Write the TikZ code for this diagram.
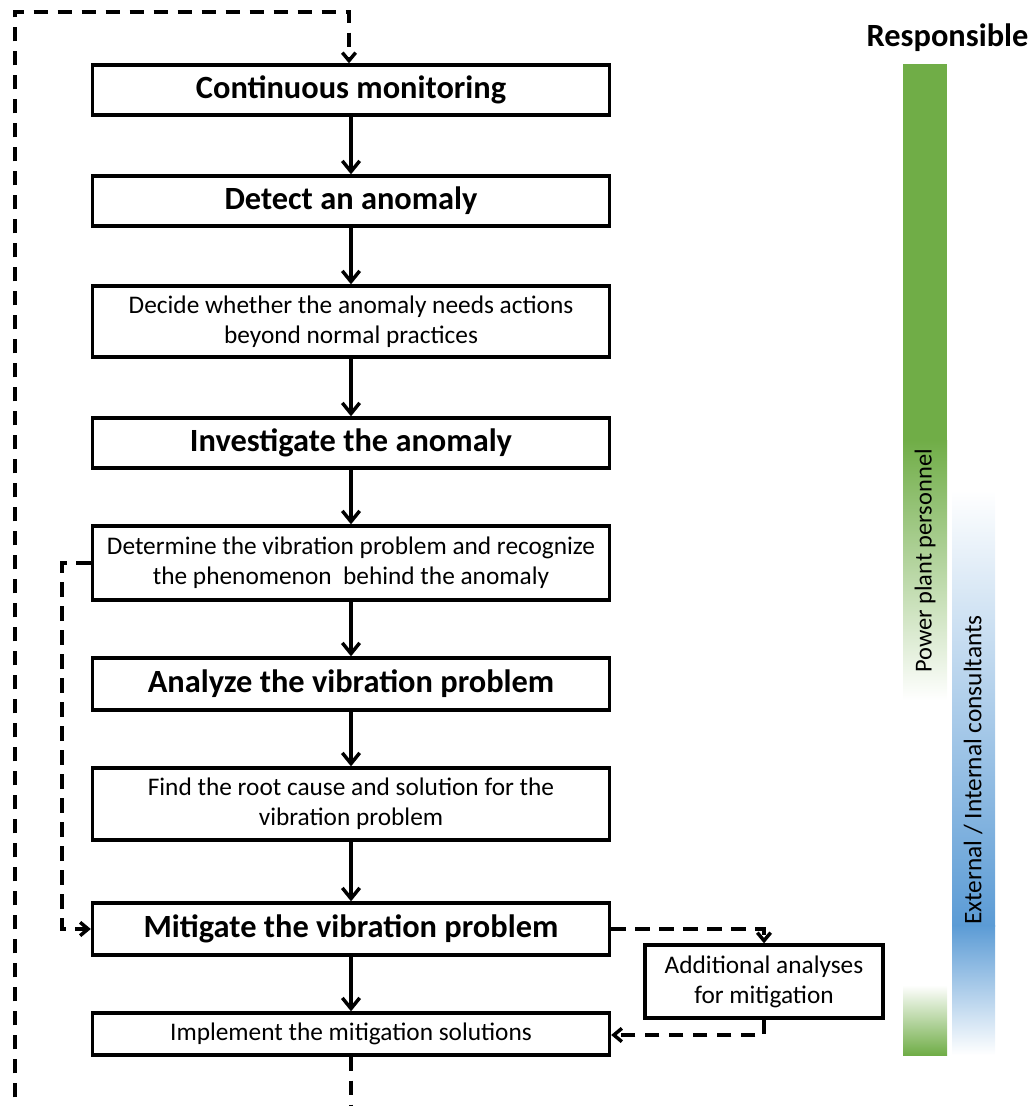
\documentclass[tikz,border=0pt]{standalone}
\usepackage{fontspec}
\setmainfont{Carlito}
\usetikzlibrary{arrows.meta,calc}
\definecolor{pgreen}{HTML}{70AD47}
\definecolor{pblue}{HTML}{5B9BD5}
\begin{document}
\begin{tikzpicture}[x=0.75pt,y=-0.75pt,
  box/.style={draw,line width=2.5pt,inner sep=0pt,align=center,font=\fontsize{19}{22.5}\selectfont,minimum width=387.75pt},
  bbox/.style={box,font=\fontsize{24.3}{28}\selectfont\bfseries},
  flow/.style={line width=2.6pt,-{Straight Barb[length=8pt,width=13pt]}},
  dflow/.style={line width=2.6pt,dash pattern=on 11pt off 7pt,-{Straight Barb[length=6pt,width=10pt]}},
  lab/.style={font=\fontsize{19}{22.5}\selectfont,inner sep=0pt}]
\useasboundingbox (0,0) rectangle (1031,1106);
% responsibility bars
\fill[pgreen] (903,64) rectangle (947,441);
\shade[top color=pgreen,bottom color=white] (903,440) rectangle (947,700);
\shade[top color=white,bottom color=pgreen] (903,985) rectangle (947,1055);
\shade[top color=white,bottom color=pblue] (952,490) rectangle (995,926);
\shade[top color=pblue,bottom color=white] (952,925) rectangle (995,1055);
\node[lab,font=\fontsize{24.3}{28}\selectfont\bfseries,anchor=base] (resp) at (947.5,47) {Responsible};
\node[lab,rotate=90,font=\fontsize{18.3}{22}\selectfont] (pp) at (925,561) {Power plant personnel};
\node[lab,rotate=90] (ec) at (973,770) {External / Internal consultants};
% boxes
\node[bbox,minimum height=37.5pt] (b1) at (351,90) {Continuous monitoring};
\node[bbox,minimum height=37.5pt] (b2) at (351,201) {Detect an anomaly};
\node[box,minimum height=53.25pt] (b3) at (351,321.5) {Decide whether the anomaly needs actions\\beyond normal practices};
\node[bbox,minimum height=37.5pt] (b4) at (351,443) {Investigate the anomaly};
\node[box,minimum height=55.5pt] (b5) at (351,563) {Determine the vibration problem and recognize\\the phenomenon~ behind the anomaly};
\node[bbox,minimum height=39pt] (b6) at (351,684) {Analyze the vibration problem};
\node[box,minimum height=54pt] (b7) at (351,804) {Find the root cause and solution for the\\vibration problem};
\node[bbox,minimum height=39pt] (b8) at (351,929) {Mitigate the vibration problem};
\node[box,minimum height=31.5pt] (b9) at (351,1034) {Implement the mitigation solutions};
\node[box,minimum width=178.5pt,minimum height=54.75pt] (side) at (764,981.5) {Additional analyses\\for mitigation};
% main flow
\draw[flow] (b1) -- (b2);
\draw[flow] (b2) -- (b3);
\draw[flow] (b3) -- (b4);
\draw[flow] (b4) -- (b5);
\draw[flow] (b5) -- (b6);
\draw[flow] (b6) -- (b7);
\draw[flow] (b7) -- (b8);
\draw[flow] (b8) -- (b9);
% loop back
\coordinate (lb) at (351,1125);
\coordinate (lbl) at (15,1125);
\coordinate (ltl) at (15,12);
\coordinate (ltr) at (349,12);
\draw[dflow] (b9.south) -- (lb) -- (lbl) -- (ltl) -- (ltr) -- (ltr |- b1.north);
% shortcut
\coordinate (s1) at (62,563);
\draw[dflow] (b5.west) -- (s1) -- (s1 |- b8.west) -- (b8.west);
% side branch
\coordinate (r1) at (764,929);
\draw[dflow] (b8.east) -- (r1) -- (side.north);
\coordinate (r2) at (764,1035);
\draw[dflow] (side.south) -- (r2) -- (r2 -| b9.east);
\end{tikzpicture}
\end{document}
